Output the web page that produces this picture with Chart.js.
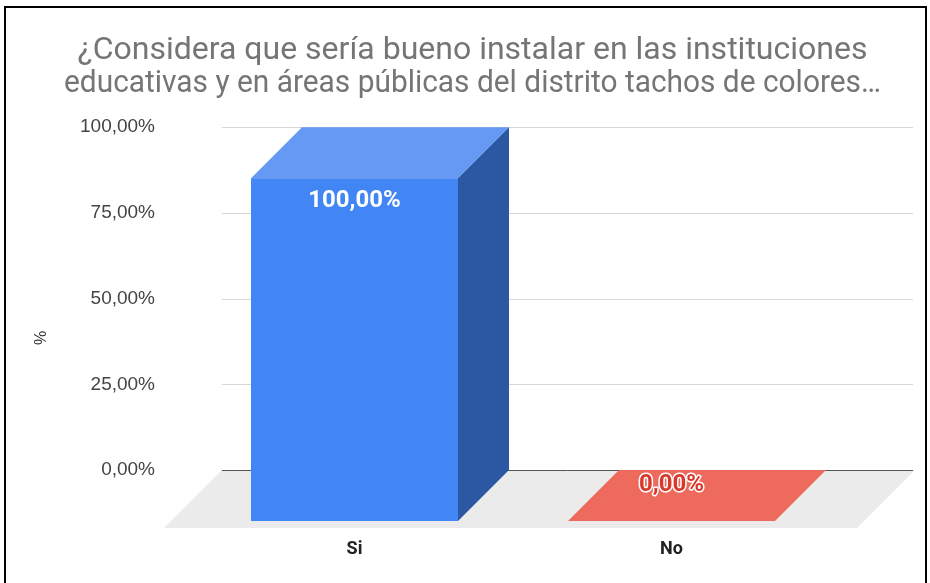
<!DOCTYPE html>
<html>
<head>
<meta charset="utf-8">
<script src="https://cdn.jsdelivr.net/npm/chart.js@4/dist/chart.umd.min.js"></script>
<style>
  html, body { margin: 0; padding: 0; background: #fff; overflow: hidden; }
  #wrap { position: relative; width: 930px; height: 583px; }
  #frame {
    position: absolute; left: 4px; top: 6px; width: 919px; height: 600px;
    border: 2px solid #000; border-bottom: none; pointer-events: none;
  }
</style>
</head>
<body>
<div id="wrap">
  <canvas id="chart" width="930" height="583"></canvas>
  <div id="frame"></div>
</div>
<script>
// data
const titleLines = [
  "¿Considera que sería bueno instalar en las instituciones",
  "educativas y en áreas públicas del distrito tachos de colores…"
];
const categories = ["Si", "No"];
const values = [100, 0];
const axisTitle = "%";

// colours per bar: front, top, side
const frontColors = ["#4285f4", "#ea4335"];
const topColors = ["#6599f3", "#ee6a5d"];
const sideColors = ["#2b57a3", "#a8362c"];

const DEPTH = 51;       // 3d offset of bars
const FLOOR = 58;       // floor depth

const fmt = v => v.toFixed(2).replace(".", ",") + "%";

const pseudo3d = {
  id: "pseudo3d",
  beforeDatasetsDraw(chart) {
    const ctx = chart.ctx;
    const area = chart.chartArea;
    const y = chart.scales.y;
    const y0 = y.getPixelForValue(0);
    const gl = area.left - 25, gr = area.right + 32;

    // floor
    ctx.save();
    ctx.fillStyle = "#ebebeb";
    ctx.beginPath();
    ctx.moveTo(gl, y0);
    ctx.lineTo(gr + 2, y0);
    ctx.lineTo(gr + 2 - FLOOR, y0 + FLOOR);
    ctx.lineTo(gl - FLOOR, y0 + FLOOR);
    ctx.closePath();
    ctx.fill();

    // grid lines on the back wall
    y.ticks.forEach(t => {
      const py = Math.round(y.getPixelForValue(t.value)) + 0.5;
      ctx.strokeStyle = t.value === 0 ? "#555" : "#d6d6d6";
      ctx.lineWidth = 1;
      ctx.beginPath();
      ctx.moveTo(gl, py);
      ctx.lineTo(gr, py);
      ctx.stroke();
    });

    // top and side faces
    const meta = chart.getDatasetMeta(0);
    meta.data.forEach((bar, i) => {
      const l = bar.x - bar.width / 2, r = bar.x + bar.width / 2;
      const top = bar.y, base = bar.base;
      ctx.fillStyle = topColors[i];
      ctx.beginPath();
      ctx.moveTo(l, top);
      ctx.lineTo(r, top);
      ctx.lineTo(r - DEPTH, top + DEPTH);
      ctx.lineTo(l - DEPTH, top + DEPTH);
      ctx.closePath();
      ctx.fill();
      if (base - top > 0) {
        ctx.fillStyle = sideColors[i];
        ctx.beginPath();
        ctx.moveTo(r, top);
        ctx.lineTo(r, base);
        ctx.lineTo(r - DEPTH, base + DEPTH);
        ctx.lineTo(r - DEPTH, top + DEPTH);
        ctx.closePath();
        ctx.fill();
      }
    });
    ctx.restore();

    // front faces drawn by chart.js, moved forward
    ctx.save();
    ctx.translate(-DEPTH, DEPTH);
  },
  afterDatasetsDraw(chart) {
    const ctx = chart.ctx;
    ctx.restore();
    const x = chart.scales.x;
    const meta = chart.getDatasetMeta(0);

    ctx.save();
    ctx.textAlign = "center";
    ctx.textBaseline = "middle";

    // value labels
    ctx.font = "bold 24px Roboto";
    meta.data.forEach((bar, i) => {
      const fx = bar.x - DEPTH, fy = bar.y + DEPTH;
      const txt = fmt(values[i]);
      if (values[i] > 0) {
        ctx.fillStyle = "#ffffff";
        ctx.fillText(txt, fx, fy + 23);
      } else {
        ctx.lineWidth = 3;
        ctx.lineJoin = "round";
        ctx.strokeStyle = "#ffffff";
        ctx.strokeText(txt, fx, fy - 36);
        ctx.fillStyle = "#d7392d";
        ctx.fillText(txt, fx, fy - 36);
      }
    });

    // category labels at the front plane
    ctx.font = "bold 18px Roboto";
    ctx.fillStyle = "#222";
    categories.forEach((c, i) => {
      ctx.fillText(c, x.getPixelForValue(i) - DEPTH, 549);
    });

    // axis title
    ctx.translate(42, 338);
    ctx.rotate(-Math.PI / 2);
    ctx.font = "16px Arial";
    ctx.fillStyle = "#333";
    ctx.fillText(axisTitle, 0, 0);
    ctx.restore();
  }
};

new Chart(document.getElementById("chart"), {
  type: "bar",
  data: {
    labels: categories,
    datasets: [{
      data: values,
      backgroundColor: frontColors,
      borderWidth: 0,
      categoryPercentage: 1,
      barPercentage: 0.653,
      clip: false
    }]
  },
  options: {
    responsive: false,
    animation: false,
    layout: { padding: { left: 64, right: 49, top: 34, bottom: 0 } },
    plugins: {
      legend: { display: false },
      tooltip: { enabled: false },
      title: {
        display: true,
        text: titleLines,
        color: "#757575",
        font: { family: "Roboto", size: 32, weight: "normal", lineHeight: 1.05 },
        padding: { top: 0, bottom: 26 }
      }
    },
    scales: {
      x: {
        grid: { display: false },
        border: { display: false },
        ticks: { display: false },
        afterFit: s => { s.height = 583 - 470; }
      },
      y: {
        min: 0,
        max: 100,
        grid: { display: false, drawTicks: false },
        border: { display: false },
        ticks: {
          stepSize: 25,
          padding: 92,
          color: "#444",
          font: { family: "Arial", size: 19 },
          callback: v => fmt(v)
        },
        afterFit: s => { s.width = 183; }
      }
    }
  },
  plugins: [pseudo3d]
});
</script>
</body>
</html>
